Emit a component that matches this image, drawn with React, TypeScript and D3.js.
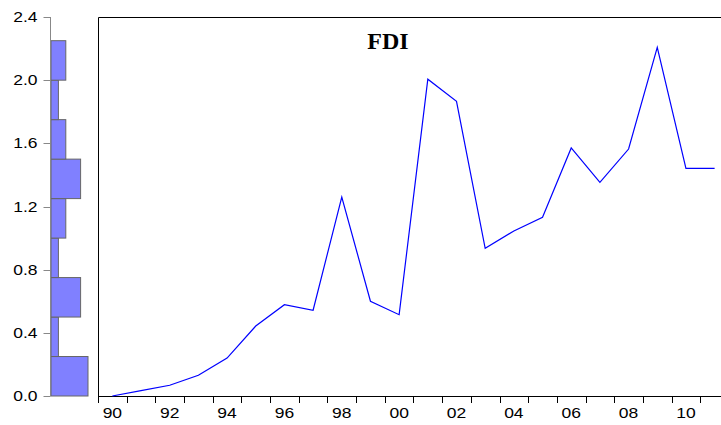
import React, { useEffect, useRef } from "react";
import * as d3 from "d3";

// FDI yearly values, 1990-2011
const years = [
  1990, 1991, 1992, 1993, 1994, 1995, 1996, 1997, 1998, 1999, 2000,
  2001, 2002, 2003, 2004, 2005, 2006, 2007, 2008, 2009, 2010, 2011,
];
const fdi = [
  0.0, 0.034, 0.068, 0.131, 0.24, 0.443, 0.578, 0.543, 1.26, 0.6, 0.515,
  2.006, 1.866, 0.935, 1.045, 1.132, 1.571, 1.353, 1.564, 2.208, 1.442, 1.442,
];
const yTicks = [0, 0.4, 0.8, 1.2, 1.6, 2.0, 2.4];
const binEdges = [0, 0.25, 0.5, 0.75, 1.0, 1.25, 1.5, 1.75, 2.0, 2.25, 2.5];
const title = "FDI";

const sans = "Liberation Sans, Arial, sans-serif";
const stretch = 1.25; // tick labels are drawn wide in the original

export default function App() {
  const svgRef = useRef<SVGSVGElement>(null);

  useEffect(() => {
    const width = 721;
    const height = 425;
    const svg = d3.select(svgRef.current);
    svg.selectAll("*").remove();
    svg.attr("width", width).attr("height", height);

    const plot = { left: 98, top: 17, bottom: 396 };

    const y = d3.scaleLinear().domain([0, 2.4]).range([plot.bottom, plot.top]);
    const x = d3
      .scaleLinear()
      .domain([1990, 2012])
      .range([plot.left, plot.left + 22 * 28.68]);

    // Histogram on the left
    const bins = d3
      .bin()
      .domain([0, 2.5])
      .thresholds(binEdges.slice(1, -1))(fdi)
      .filter((b) => b.length > 0);
    const hx = d3.scaleLinear().domain([0, 5]).range([51, 88]);

    svg
      .append("g")
      .selectAll("rect")
      .data(bins)
      .enter()
      .append("rect")
      .attr("x", hx(0))
      .attr("y", (d) => y(d.x1 as number))
      .attr("width", (d) => hx(d.length) - hx(0))
      .attr("height", (d) => y(d.x0 as number) - y(d.x1 as number))
      .attr("fill", "#8080ff")
      .attr("stroke", "#666")
      .attr("stroke-width", 1);

    // Left value axis
    const yAxis = svg.append("g").attr("transform", "translate(50.5,0)");
    yAxis
      .append("line")
      .attr("y1", y(0))
      .attr("y2", y(2.4))
      .attr("stroke", "#888");
    yAxis
      .selectAll("line.tick")
      .data(yTicks)
      .enter()
      .append("line")
      .attr("class", "tick")
      .attr("x1", -7)
      .attr("x2", 0)
      .attr("y1", (d) => Math.round(y(d)) + 0.5)
      .attr("y2", (d) => Math.round(y(d)) + 0.5)
      .attr("stroke", "#888");
    yAxis
      .selectAll("text")
      .data(yTicks)
      .enter()
      .append("text")
      .attr("transform", (d) => `translate(-13,${y(d)}) scale(${stretch},1)`)
      .attr("dy", "0.36em")
      .attr("text-anchor", "end")
      .attr("font-family", sans)
      .attr("font-size", 14)
      .attr("fill", "#000")
      .text((d) => d3.format(".1f")(d));

    // Plot frame (right edge falls outside the image)
    svg
      .append("path")
      .attr(
        "d",
        `M${width + 5},${plot.top + 0.5}H${plot.left + 0.5}V${plot.bottom + 0.5}H${width + 5}`
      )
      .attr("fill", "none")
      .attr("stroke", "#000")
      .attr("stroke-width", 1);

    // Bottom axis ticks at year boundaries, labels centred in each year
    const xAxis = svg.append("g");
    xAxis
      .selectAll("line")
      .data(years)
      .enter()
      .append("line")
      .attr("x1", (d) => Math.round(x(d)) + 0.5)
      .attr("x2", (d) => Math.round(x(d)) + 0.5)
      .attr("y1", plot.bottom)
      .attr("y2", plot.bottom + 7)
      .attr("stroke", "#000");
    xAxis
      .selectAll("text")
      .data(years.filter((d) => d % 2 === 0))
      .enter()
      .append("text")
      .attr("transform", (d) => `translate(${x(d + 0.5)},418) scale(${stretch},1)`)
      .attr("text-anchor", "middle")
      .attr("font-family", sans)
      .attr("font-size", 14)
      .attr("fill", "#000")
      .text((d) => String(d % 100).padStart(2, "0"));

    // Series line
    const line = d3
      .line<number>()
      .x((_, i) => x(years[i] + 0.5))
      .y((d) => y(d));
    svg
      .append("path")
      .datum(fdi)
      .attr("fill", "none")
      .attr("stroke", "#0000ff")
      .attr("stroke-width", 1.2)
      .attr("d", line);

    // Title
    svg
      .append("text")
      .attr("x", 388)
      .attr("y", 49)
      .attr("text-anchor", "middle")
      .style("font-family", "Liberation Serif")
      .attr("font-weight", "bold")
      .attr("font-size", 24)
      .attr("fill", "#000")
      .text(title);
  }, []);

  return (
    <div style={{ position: "absolute", left: 0, top: 0, width: 721, height: 425, overflow: "hidden", background: "#fff" }}>
      <svg ref={svgRef} style={{ display: "block" }}></svg>
    </div>
  );
}
